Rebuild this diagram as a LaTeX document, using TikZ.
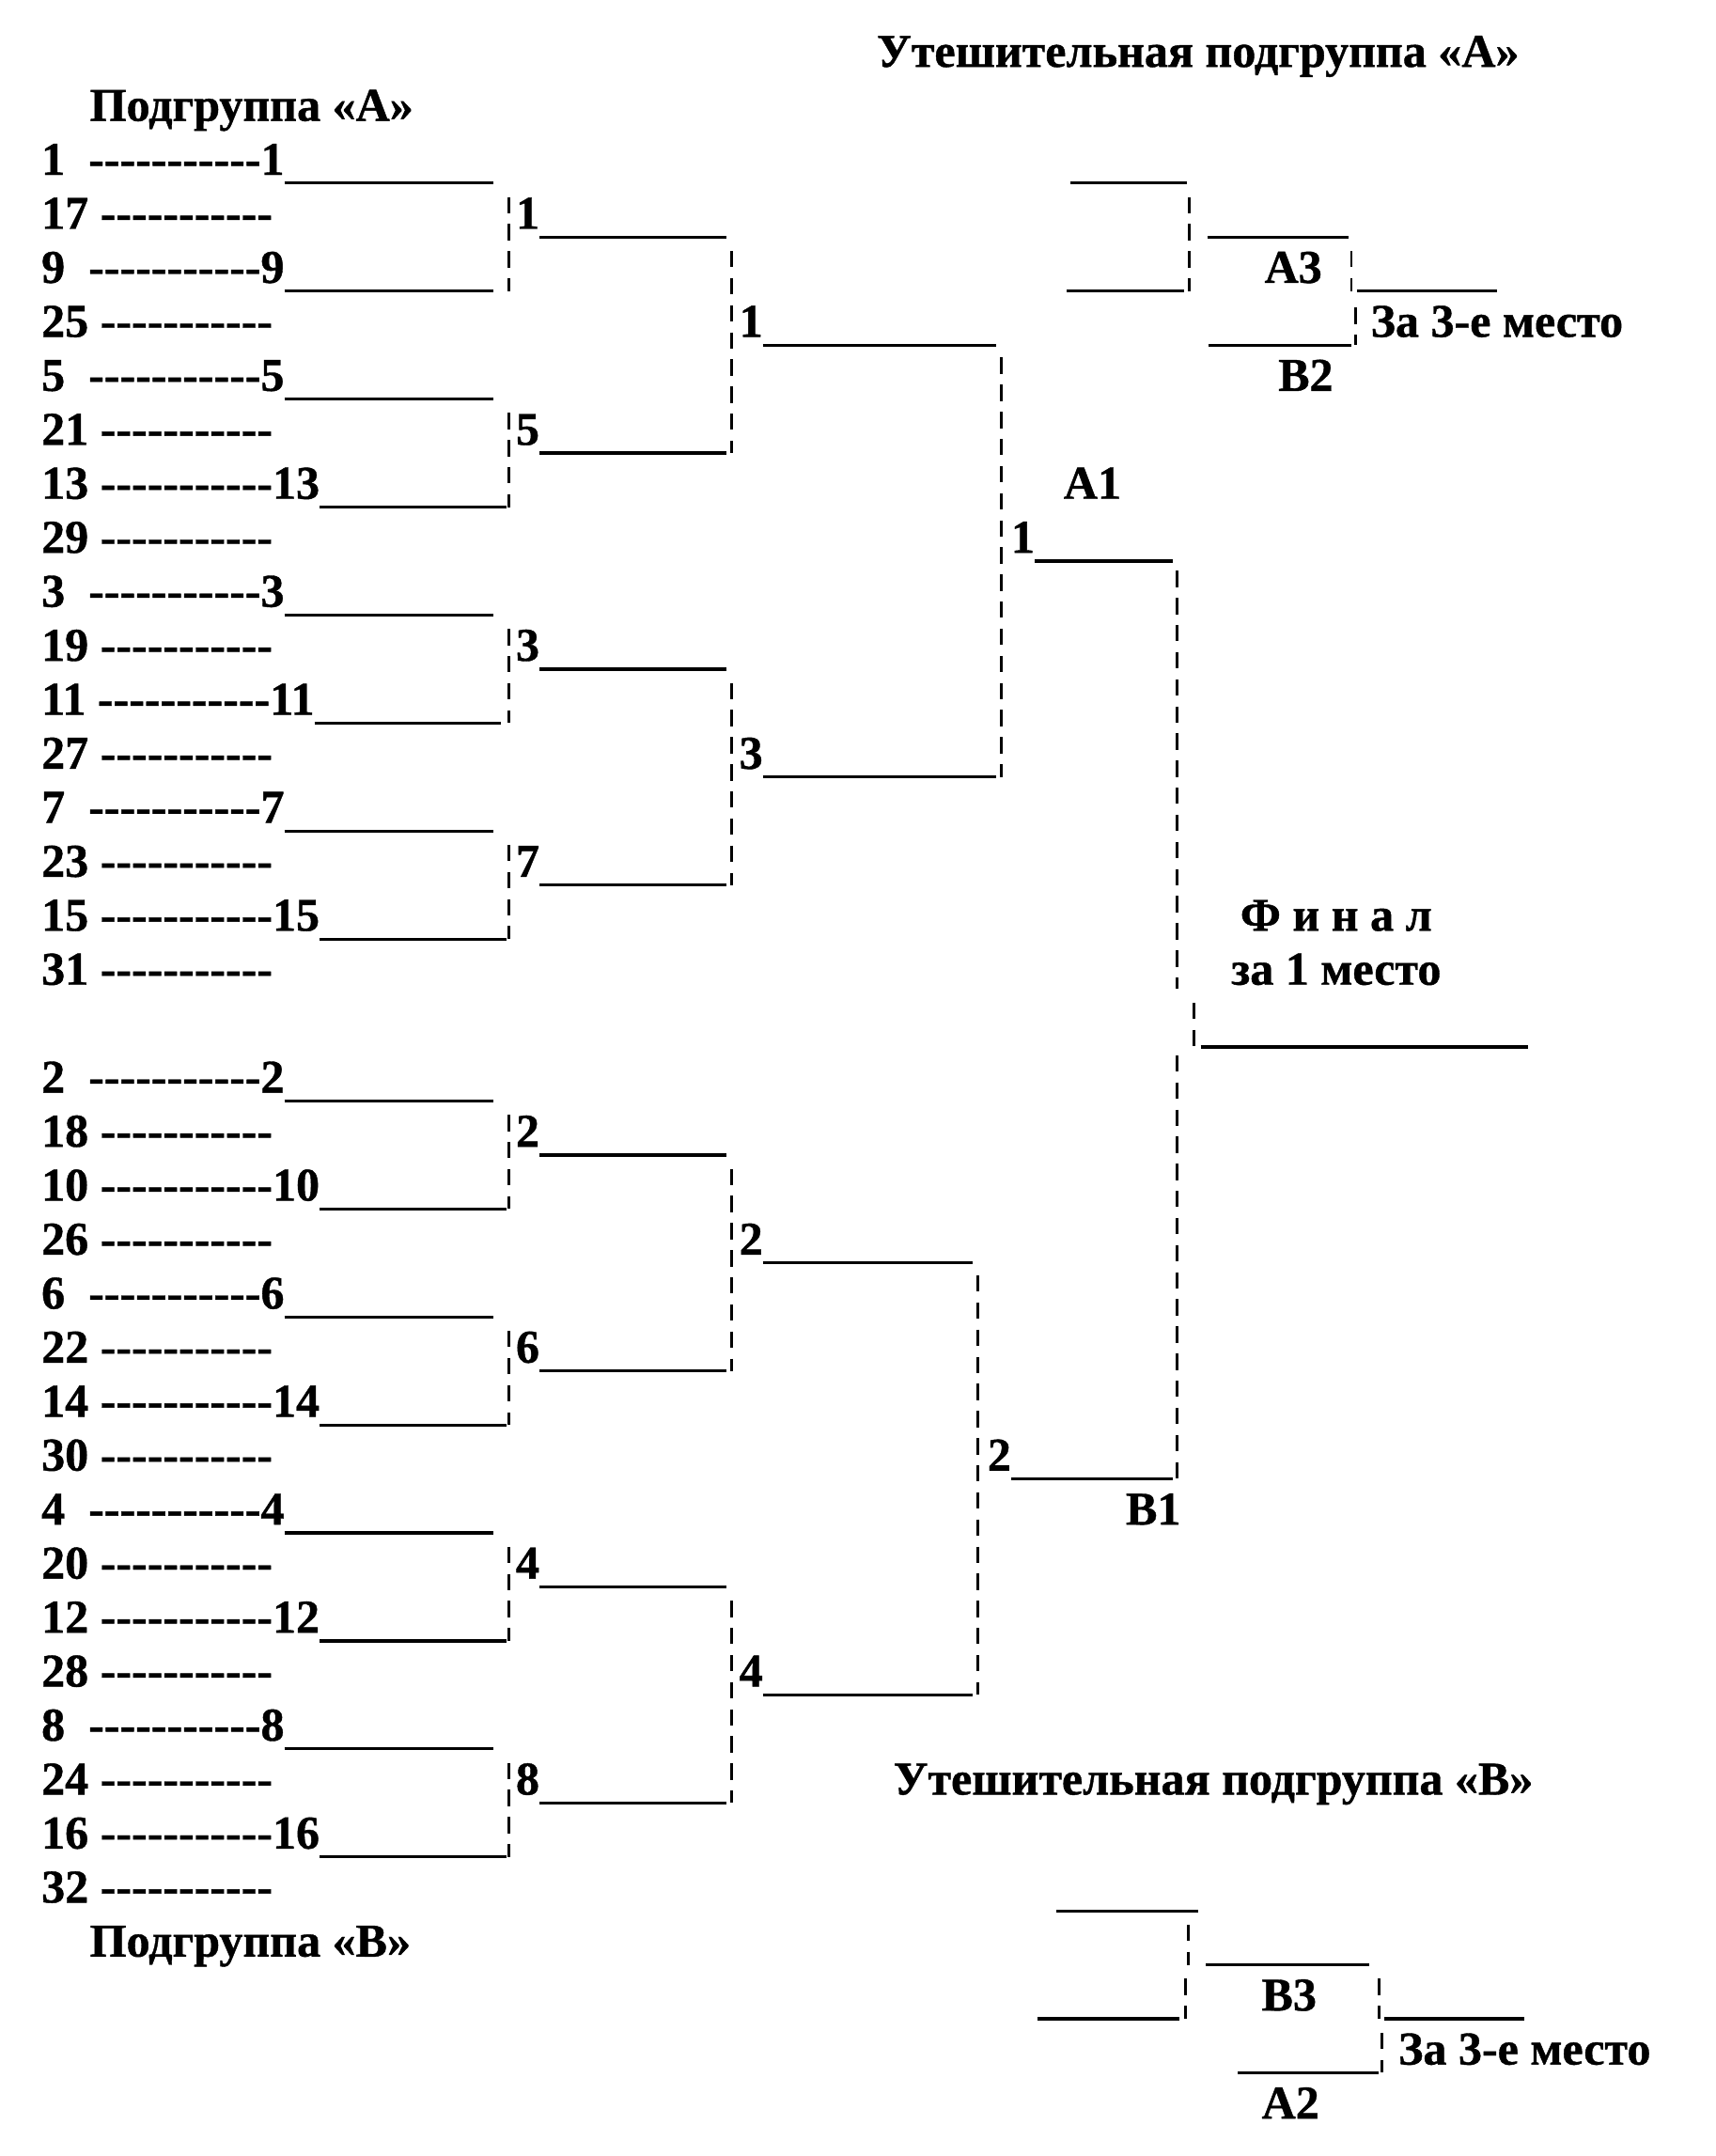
\documentclass[tikz,border=0pt]{standalone}
\usepackage{fontspec}
\setmainfont{Liberation Serif}[BoldFeatures={FakeBold=0.8}]
\newcommand\hy{\hbox{-}}
\newcommand\dashrow{\hy\hy\hy\hy\hy\hy\hy\hy\hy\hy\hy}
\newcommand\Ly[1]{(126.4+39.03*(#1))}
\newcommand\Uy[1]{(132.4+39.03*(#1))}
\begin{document}
\begin{tikzpicture}[x=0.5pt,y=-0.5pt,
  txt/.style={inner sep=0pt,outer sep=0pt,anchor=base west,font=\fontsize{17}{20}\bfseries\selectfont},
  ctxt/.style={txt,anchor=base},
  ul/.style={line width=1.1pt},
  br/.style={line width=0.95pt,dash pattern=on 5.9pt off 3.9pt}]
\fill[white] (0,0) rectangle (1240,1558.6);
\useasboundingbox (0,0) rectangle (1240,1558.6);

% titles
\node[txt] (tA) at (634,{\Ly{-2}}) {Утешительная подгруппа «А»};
\node[txt] (pA) at (65,{\Ly{-1}}) {Подгруппа «А»};
\node[txt] (pB) at (65,{\Ly{33}}) {Подгруппа «В»};
\node[txt] (tB) at (646,{\Ly{30}}) {Утешительная подгруппа «В»};

% winner rows, single digit
\foreach \l/\nm in {0/1,2/9,4/5,8/3,12/7,17/2,21/6,25/4,29/8} {
  \node[txt] (r\l) at (30,{\Ly{\l}}) {\nm\ \ \dashrow\nm};
  \draw[ul] ([yshift=-3pt]r\l.base east) -- ++(151,0);
}
% winner rows, two digits
\foreach \l/\nm in {6/13,10/11,14/15,19/10,23/14,27/12,31/16} {
  \node[txt] (r\l) at (30,{\Ly{\l}}) {\nm\ \dashrow\nm};
  \draw[ul] ([yshift=-3pt]r\l.base east) -- ++(135,0);
}
% other rows
\foreach \l/\nm in {1/17,3/25,5/21,7/29,9/19,11/27,13/23,15/31,18/18,20/26,22/22,24/30,26/20,28/28,30/24,32/32} {
  \node[txt] (r\l) at (30,{\Ly{\l}}) {\nm\ \dashrow};
}

% round 1
\foreach \a/\m/\b/\nm in {0/1/2/1,4/5/6/5,8/9/10/3,12/13/14/7,17/18/19/2,21/22/23/6,25/26/27/4,29/30/31/8} {
  \draw[br] (368,{\Uy{\a}+10}) -- (368,{\Uy{\b}});
  \node[txt] (a\m) at (373,{\Ly{\m}}) {\nm};
  \draw[ul] ([yshift=-3pt]a\m.base east) -- ++(135,0);
}
% round 2
\foreach \a/\m/\b/\nm/\len in {1/3/5/1/169,9/11/13/3/169,18/20/22/2/152,26/28/30/4/152} {
  \draw[br] (529,{\Uy{\a}+10}) -- (529,{\Uy{\b}});
  \node[txt] (b\m) at (534.5,{\Ly{\m}}) {\nm};
  \draw[ul] ([yshift=-3pt]b\m.base east) -- ++(\len,0);
}
% round 3
\draw[br] (724,{\Uy{3}+9}) -- (724,{\Uy{11}});
\node[txt] (c7) at (731,{\Ly{7}}) {1};
\draw[ul] ([yshift=-3pt]c7.base east) -- ++(100,0);
\draw[br] (707,{\Uy{20}+9}) -- (707,{\Uy{28}});
\node[txt] (c24) at (714,{\Ly{24}}) {2};
\draw[ul] ([yshift=-3pt]c24.base east) -- ++(117,0);
\node[txt] (A1) at (769,{\Ly{6}}) {А1};
\node[txt] (B1) at (814,{\Ly{25}}) {В1};

% final
\draw[br] (851,{\Uy{7}+7}) -- (851,{\Uy{15}-3});
\draw[br] (863,{\Uy{15}+7}) -- (863,{\Uy{16}});
\draw[br] (851,{\Uy{16}+6}) -- (851,{\Uy{24}});
\draw[ul] (868,{\Uy{16}}) -- (1105,{\Uy{16}});
\node[ctxt] (fin) at (966,{\Ly{14}}) {Ф и н а л};
\node[ctxt] (fin2) at (966,{\Ly{15}}) {за 1 место};

% consolation A
\draw[ul] (774,{\Uy{0}}) -- (858,{\Uy{0}});
\draw[ul] (771,{\Uy{2}}) -- (856,{\Uy{2}});
\draw[br] (860,{\Uy{0}+10}) -- (860,{\Uy{2}});
\draw[ul] (873,{\Uy{1}}) -- (975,{\Uy{1}});
\draw[br] (977,{\Uy{1}+10}) -- (977,{\Uy{2}});
\draw[br] (980,{\Uy{2}+12}) -- (980,{\Uy{3}});
\draw[ul] (981,{\Uy{2}}) -- (1082,{\Uy{2}});
\draw[ul] (874,{\Uy{3}}) -- (977,{\Uy{3}});
\node[ctxt] (A3) at (935,{\Ly{2}}) {А3};
\node[ctxt] (B2) at (944,{\Ly{4}}) {В2};
\node[txt] (m3a) at (991,{\Ly{3}}) {За 3-е место};

% consolation B
\draw[ul] (764,{\Uy{32}}) -- (866,{\Uy{32}});
\draw[br] (859,{\Uy{32}+10}) -- (859,{\Uy{33}});
\draw[br] (857,{\Uy{33}+10}) -- (857,{\Uy{34}});
\draw[ul] (750,{\Uy{34}}) -- (853,{\Uy{34}});
\draw[ul] (872,{\Uy{33}}) -- (990,{\Uy{33}});
\draw[br] (997,{\Uy{33}+10}) -- (997,{\Uy{34}});
\draw[br] (999,{\Uy{34}+10}) -- (999,{\Uy{35}});
\draw[ul] (1001,{\Uy{34}}) -- (1102,{\Uy{34}});
\draw[ul] (895,{\Uy{35}}) -- (997,{\Uy{35}});
\node[ctxt] (B3) at (932,{\Ly{34}}) {В3};
\node[ctxt] (A2) at (933,{\Ly{36}}) {А2};
\node[txt] (m3b) at (1011,{\Ly{35}}) {За 3-е место};
\end{tikzpicture}
\end{document}
